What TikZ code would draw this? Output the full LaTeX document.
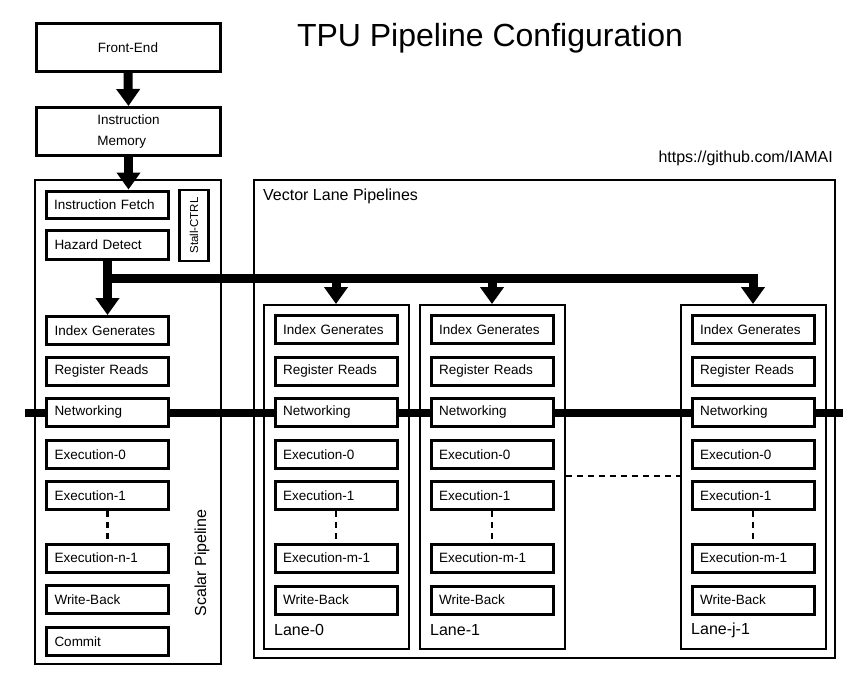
\documentclass[tikz,border=0pt]{standalone}
\usepackage{fontspec}
\setmainfont{Liberation Sans}
\usetikzlibrary{arrows.meta}

\begin{document}
\begin{tikzpicture}[x=1pt,y=-1pt,
  stage/.style={draw,line width=3pt,fill=white,minimum width=122pt,minimum height=28pt,
    inner xsep=8pt,inner ysep=0pt,text width=106pt,align=left,font=\fontsize{13.5}{16}\selectfont},
  topbox/.style={draw,line width=3pt,minimum width=184pt,minimum height=48pt,
    font=\fontsize{13.5}{21}\selectfont},
  frame/.style={draw,line width=2pt,inner sep=0pt},
  pipe/.style={line width=9pt,-{Triangle[width=23pt,length=17pt]}},
  netline/.style={line width=8pt},
  gapline/.style={line width=2.5pt,dash pattern=on 6pt off 5pt},
  caption/.style={font=\fontsize{16}{19}\selectfont,inner sep=0pt}]

\useasboundingbox (0,0) rectangle (867,680);

% titolo
\node[font=\fontsize{32}{38}\selectfont] (title) at (490,38) {TPU Pipeline Configuration};
\node[caption,anchor=east] (url) at (833,158) {https://github.com/IAMAI};

% front-end e memoria
\node[topbox] (fe) at (128,47.5) {Front-End};
\node[topbox,align=left] (im) at (128.5,131.5) {Instruction\\Memory};
\draw[pipe] (fe.south) -- (im.north);

%scalar pipeline
\node[frame,minimum width=186pt,minimum height=484pt] (scalar) at (128,422) {};
\node[caption,rotate=90] (scalarlbl) at (202,563) {Scalar Pipeline};
\node[stage,minimum height=27pt] (ifetch) at (107,204.5) {Instruction Fetch};
\node[stage,minimum height=29pt] (hazard) at (107.5,245) {Hazard Detect};
\node[draw,line width=2.5pt,rotate=90,minimum width=71pt,minimum height=29pt,inner sep=0pt,
  font=\fontsize{11.5}{14}\selectfont] (stall) at (194,225.5) {Stall-CTRL};
\draw[pipe] (im.south) -- (im.south |- ifetch.north);

\node[stage] (sidx) at (107.5,330.5) {Index Generates};
\node[stage] (sreg) at (107.5,371.5) {Register Reads};
\node[stage] (snet) at (107.5,412.5) {Networking};
\node[stage] (sex0) at (107.5,454.5) {Execution-0};
\node[stage] (sex1) at (107.5,495.5) {Execution-1};
\node[stage] (sexn) at (107.5,558) {Execution-n-1};
\node[stage] (swb)  at (107.5,599.5) {Write-Back};
\node[stage] (scom) at (107.5,641.5) {Commit};
\draw[gapline,line width=3pt] (sex1.south) -- (sexn.north);

%vector lanes
\node[frame,line width=1.5pt,minimum width=581pt,minimum height=478pt] (vec) at (544.5,419) {};
\node[caption,anchor=west] (veclbl) at (263,196) {Vector Lane Pipelines};

\foreach \l/\x/\name in {0/336/Lane-0, 1/492/Lane-1, j/753/Lane-j-1}{
  \node[frame,minimum width=145pt,minimum height=344pt] (lane\l) at (\x,477) {};
  \node[caption,anchor=west] (lbl\l) at (\x-62,630) {\name};
  \node[stage] (idx\l) at (\x,329.5) {Index Generates};
  \node[stage] (reg\l) at (\x,371) {Register Reads};
  \node[stage] (net\l) at (\x,412.5) {Networking};
  \node[stage] (exa\l) at (\x,454.5) {Execution-0};
  \node[stage] (exb\l) at (\x,495.5) {Execution-1};
  \node[stage] (exn\l) at (\x,558) {Execution-m-1};
  \node[stage] (wb\l)  at (\x,600) {Write-Back};
  \draw[gapline] (exb\l.south) -- (exn\l.north);
}

% bus di controllo
\coordinate (bus) at (0,278);
\draw[pipe] (hazard.south) -- (sidx.north);
\draw[pipe] (hazard.south |- bus) -| (lanej.north);
\draw[pipe] (lane0.north |- bus) -- (lane0.north);
\draw[pipe] (lane1.north |- bus) -- (lane1.north);

% rete
\coordinate (netL) at (25,412.5);
\coordinate (netR) at (843,412.5);
\draw[netline] (netL) -- (snet.west);
\draw[netline] (snet.east) -- (net0.west);
\draw[netline] (net0.east) -- (net1.west);
\draw[netline] (net1.east) -- (netj.west);
\draw[netline] (netj.east) -- (netR);

% corsie omesse
\coordinate (gap) at (0,476);
\draw[gapline] (lane1.east |- gap) -- (lanej.west |- gap);

\end{tikzpicture}
\end{document}
